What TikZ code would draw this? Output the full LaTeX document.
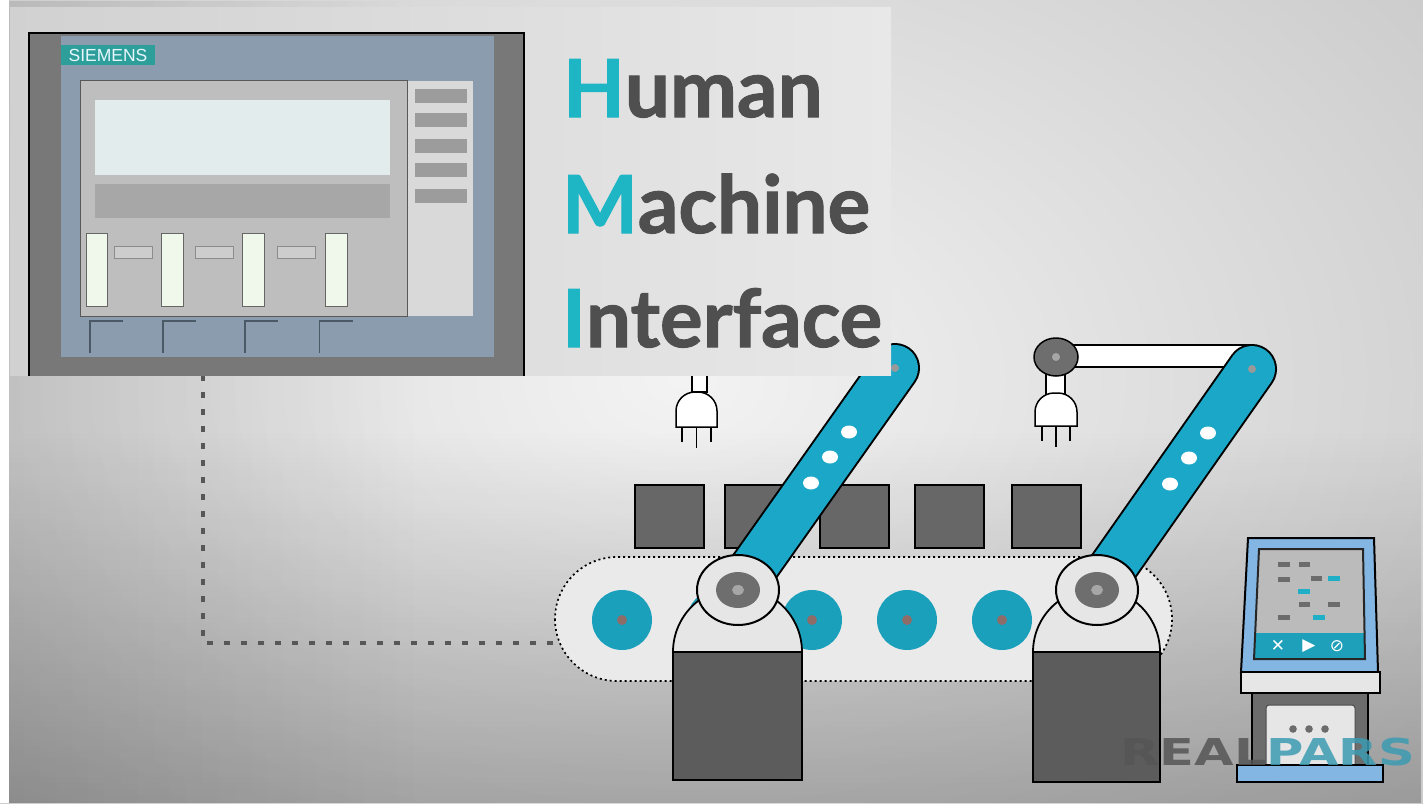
\documentclass[tikz,border=0pt]{standalone}
\usepackage{fontspec}
\newfontfamily\titlefont{Lato}[BoldFeatures={FakeBold=1.3}]
\newfontfamily\brandfont{Liberation Sans}
\newfontfamily\iconfont{DejaVu Sans}
\usetikzlibrary{fadings}

\definecolor{bgbase}{HTML}{BDBDBD}
\definecolor{bglight}{HTML}{F3F3F3}
\definecolor{framegray}{HTML}{787878}
\definecolor{panelblue}{HTML}{8A9CAE}
\definecolor{siemensteal}{HTML}{2E9E9B}
\definecolor{keypad}{HTML}{BEBEBE}
\definecolor{keycol}{HTML}{D9D9D9}
\definecolor{keybtn}{HTML}{9C9C9C}
\definecolor{lcd}{HTML}{E3ECEC}
\definecolor{lcdbar}{HTML}{A7A7A7}
\definecolor{gauge}{HTML}{EFF8EA}
\definecolor{slot}{HTML}{CDCDCD}
\definecolor{tick}{HTML}{4B5866}
\definecolor{capteal}{HTML}{1EB6C4}
\definecolor{wordgray}{HTML}{4F4F4F}
\definecolor{linkgray}{HTML}{575757}
\definecolor{beltfill}{HTML}{EAEAEA}
\definecolor{rollerteal}{HTML}{1BA0BC}
\definecolor{hub}{HTML}{8E6C68}
\definecolor{cratefill}{HTML}{676767}
\definecolor{armteal}{HTML}{1AA7C8}
\definecolor{domefill}{HTML}{E6E6E6}
\definecolor{pedestal}{HTML}{5C5C5C}
\definecolor{hubgray}{HTML}{6E6E6E}
\definecolor{skyblue}{HTML}{84B6E3}
\definecolor{screengray}{HTML}{BBBBBB}
\definecolor{codegray}{HTML}{6C6C6C}
\definecolor{codeteal}{HTML}{1FB0C8}
\definecolor{barteal}{HTML}{1FA0BA}
\definecolor{logogray}{HTML}{555555}
\definecolor{logoteal}{HTML}{3C9BB2}

\begin{document}
\begin{tikzpicture}[x=1pt,y=-1pt,
  outline/.style={draw=black, line width=1.8pt},
  cratebox/.style={fill=cratefill, draw=black, line width=1.5pt},
  link/.style={draw=linkgray, line width=4.5pt, dash pattern=on 6pt off 11pt},
  beltline/.style={draw=black, fill=beltfill, line width=1.7pt, dash pattern=on 2pt off 3pt},
  armedge/.style={draw=black, line width=50pt, line cap=round},
  armbody/.style={draw=armteal, line width=46pt, line cap=round},
  armdot/.style={fill=white},
  plugpart/.style={draw=black, fill=white, line width=1.5pt},
  prong/.style={draw=black, line width=1.6pt},
  word/.style={anchor=base west, inner sep=0pt, text=wordgray,
    font=\titlefont\bfseries\fontsize{80}{80}\selectfont},
  code/.style={fill=codegray},
  codehi/.style={fill=codeteal},
  icon/.style={text=white, inner sep=0pt, font=\iconfont\fontsize{17}{17}\selectfont}
]
\useasboundingbox (0,0) rectangle (1423,803);

% backdrop
\fill[bgbase] (0,0) rectangle (1423,803);
\shade[inner color=bglight, outer color=bgbase] (680,380) ellipse (1300 and 900);
\fill[black, opacity=0.24, path fading=north] (0,430) rectangle (1423,803);
\fill[black, opacity=0.10, path fading=east] (0,0) rectangle (420,803);
\fill[white] (0,0) rectangle (9,803);

% key positions
\coordinate (hmiport) at (203,375);
\coordinate (beltport) at (555,643);
\coordinate (j1) at (738,590);
\coordinate (t1) at (895,368);
\coordinate (j2) at (1097,590);
\coordinate (t2) at (1252,369);
\coordinate (wrist) at (1056,357);

% conveyor belt
\draw[beltline, rounded corners=62pt] (555,557) rectangle (1172,681);
\foreach \rx in {622,717,812,907,1002,1097} {
  \fill[rollerteal] (\rx,620) circle (30);
  \fill[hub] (\rx,620) circle (5);
}
\foreach \cx in {635,725,820,915,1012}
  \draw[cratebox] (\cx,485) rectangle ++(69,63);

% data link from the panel to the belt
\draw[link] (hmiport) |- (beltport);

% gripper of the first robot
\draw[plugpart] (692,360) rectangle (707,392);
\draw[plugpart] (676,427) [rounded corners=19pt] -- (676,392) -- (717,392) [sharp corners] -- (717,427) -- cycle;
\draw[prong] (682,427) -- (682,442);
\draw[prong] (696.5,427) -- (696.5,448);
\draw[prong] (711,427) -- (711,442);

% upper link and gripper of the second robot
\draw[plugpart] (1056,345) rectangle (1252,367);
\draw[plugpart] (1046,370) rectangle (1065,395);
\draw[plugpart] (1035,426) [rounded corners=19pt] -- (1035,393) -- (1077,393) [sharp corners] -- (1077,426) -- cycle;
\draw[prong] (1042,426) -- (1042,441);
\draw[prong] (1056,426) -- (1056,447);
\draw[prong] (1070,426) -- (1070,441);
\draw[outline, line width=1.5pt, fill=hubgray] (wrist) ellipse (22 and 19);
\fill[gray!70] (wrist) circle (4);

% robot one
\draw[armedge] (j1) -- (t1);
\draw[armbody] (j1) -- (t1);
\foreach \px/\py in {849/432, 830/457, 811/483}
  \fill[armdot] (\px,\py) ellipse (8 and 6.5);
\fill[gray!80] (t1) circle (4);
\draw[outline, fill=domefill] (737.5,652) circle (64.5);
\draw[outline, fill=pedestal] (673,652) rectangle (802,780);
\draw[outline, line width=2pt, fill=domefill] (j1) ellipse (41 and 35);
\fill[hubgray] (j1) ellipse (22 and 18);
\fill[gray!70] (j1) ellipse (6 and 5);

% robot two
\draw[armedge] (j2) -- (t2);
\draw[armbody] (j2) -- (t2);
\foreach \px/\py in {1208/433, 1189/458, 1170/484}
  \fill[armdot] (\px,\py) ellipse (8 and 6.5);
\fill[gray!80] (t2) circle (4);
\draw[outline, fill=domefill] (1096.5,652) circle (63.5);
\draw[outline, fill=pedestal] (1033,652) rectangle (1160,782);
\draw[outline, line width=2pt, fill=domefill] (j2) ellipse (41 and 35);
\fill[hubgray] (j2) ellipse (22 and 18);
\fill[gray!70] (j2) ellipse (6 and 5);

% operator terminal
\draw[outline, line width=2pt, fill=skyblue] (1248,538) -- (1374,538) -- (1378,672) -- (1241,672) -- cycle;
\fill[screengray] (1259,549) -- (1363,549) -- (1365,659) -- (1254,659) -- cycle;
\begin{scope}
  \clip (1259,549) -- (1363,549) -- (1365,659) -- (1254,659) -- cycle;
  \fill[barteal] (1250,633) rectangle (1370,662);
\end{scope}
\draw[draw=black!85, line width=2pt] (1259,549) -- (1363,549) -- (1365,659) -- (1254,659) -- cycle;
\fill[code] (1278,562) rectangle (1290,567);
\fill[code] (1299,562) rectangle (1310,567);
\fill[code] (1278,577) rectangle (1290,582);
\fill[code] (1311,576) rectangle (1322,581);
\fill[codehi] (1328,576) rectangle (1340,581);
\fill[codehi] (1298,589) rectangle (1310,594);
\fill[code] (1299,602) rectangle (1310,607);
\fill[code] (1328,602) rectangle (1340,607);
\fill[code] (1278,615) rectangle (1290,620);
\fill[codehi] (1313,615) rectangle (1325,620);
\node[icon] (stopicon) at (1278,646) {✕};
\node[icon] (playicon) at (1309,646) {▶};
\node[icon] (haltcon) at (1337,646) {⊘};
\draw[outline, line width=2pt, fill=domefill] (1241,672) rectangle (1380,693);
\draw[outline, line width=2pt, fill=framegray!90!black] (1252,693) rectangle (1368,765);
\draw[draw=black!70, line width=1pt, fill=domefill, rounded corners=3pt] (1266,766) -- (1266,705) -- (1355,705) -- (1355,766);
\foreach \dx in {1293,1309,1325}
  \fill[codegray] (\dx,729) circle (3.8);
\draw[outline, line width=2pt, fill=skyblue] (1237,765) rectangle (1383,782);

% operator panel with its caption
\begin{scope}
  \clip (10,7) rectangle (891,375);
  \shade[left color=black!18, middle color=black!5, right color=black!9] (10,7) rectangle (891,375);
  \draw[draw=black, fill=framegray, line width=1.5pt] (29,33) rectangle (524,400);
  \fill[panelblue] (61,35.5) rectangle (494,357);
  \fill[siemensteal] (61,45) rectangle (155,65);
  \node[inner sep=0pt, text=white!90!cyan, font=\brandfont\fontsize{17.5}{17.5}\selectfont] (brand) at (108,55.5) {SIEMENS};
  \fill[keycol] (407,80.5) rectangle (473,316);
  \draw[draw=black!65, line width=1pt, fill=keypad] (80,80.5) rectangle (407,316);
  \foreach \by in {88.6,113,138.6,163,189}
    \fill[keybtn] (415,\by) rectangle ++(51.5,14);
  \fill[lcd] (95,100) rectangle (389.5,175);
  \fill[lcdbar] (95,184) rectangle (389.5,218);
  \foreach \gx in {86,161.6,242.7,325.6}
    \draw[draw=black!60, line width=1pt, fill=gauge] (\gx,233) rectangle ++(21.5,73.6);
  \foreach \sx in {114,195,277}
    \draw[draw=black!45, line width=1pt, fill=slot] (\sx,246) rectangle ++(38,12.6);
  \foreach \kx in {90,163,245,319.5}
    \draw[draw=tick, line width=1.3pt] (\kx,353) -- (\kx,321) -- ++(33,0);

  \node[word] (human) at (563,117) {\textcolor{capteal}{H}uman};
  \node[word] (machine) at (562,233) {\textcolor{capteal}{M}achine};
  \node[word] (interface) at (562,347) {\textcolor{capteal}{I}nterface};
\end{scope}

% watermark
\node[anchor=base west, inner sep=0pt, xscale=1.38, transform shape, text opacity=0.85,
  font=\iconfont\bfseries\fontsize{37}{37}\selectfont] (brandmark) at (1120,765)
  {\textcolor{logogray}{REAL}\textcolor{logoteal}{PARS}};
\end{tikzpicture}
\end{document}
